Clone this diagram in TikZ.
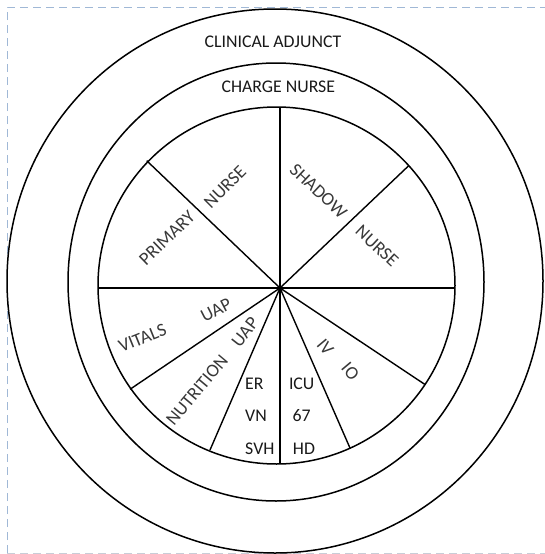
\documentclass[tikz,border=0pt]{standalone}
\usepackage{fontspec}
\setmainfont{Carlito}
\begin{document}
\begin{tikzpicture}[x=1pt,y=-1pt,
  ring/.style={line width=1.5pt,black},
  spoke/.style={line width=1.4pt,black},
  lbl/.style={inner sep=0pt,font=\fontsize{17.8}{20}\selectfont,text=black!90},
  rlbl/.style={inner sep=0pt,font=\fontsize{18.5}{20}\selectfont,text=black!78}]
\useasboundingbox (0,0) rectangle (544,554);
\draw[color={rgb,255:red,160;green,184;blue,214},line width=0.8pt,dash pattern=on 8pt off 5pt] (7,553) -- (7,7) -- (560,7);
\draw[color={rgb,255:red,200;green,205;blue,215},line width=0.8pt,dash pattern=on 8pt off 5pt] (7,553) -- (560,553);
% rings
\draw[ring] (275,281) ellipse [x radius=268, y radius=272];
\draw[ring] (276,282) ellipse [x radius=208, y radius=219];
\draw[ring] (276.5,285.5) circle [radius=178.5];
% spokes
\coordinate (c) at (280,288);
\coordinate (pU) at (280,107);
\coordinate (pD) at (280,464);
\coordinate (pL) at (98,288);
\coordinate (pR) at (455,288);
\coordinate (pUL) at (146.7,160.7);
\coordinate (pUR) at (408.7,165.7);
\coordinate (pLL1) at (130,389.3);
\coordinate (pLL2) at (210,450);
\coordinate (pLR1) at (350.3,448.7);
\coordinate (pLR2) at (424.7,384.3);
\foreach \p in {pU,pD,pL,pR,pUL,pUR,pLL1,pLL2,pLR1,pLR2}
  \draw[spoke] (c) -- (\p);
% ring labels
\node[lbl] (adj) at (273,41.5) {CLINICAL ADJUNCT};
\node[lbl] (chg) at (278.3,86.3) {CHARGE NURSE};
% rotated labels
\node[rlbl,rotate=44] (prim) at (167,238) {PRIMARY};
\node[rlbl,rotate=45] (pnur) at (225,187) {NURSE};
\node[rlbl,rotate=-43] (shad) at (318.5,191) {SHADOW};
\node[rlbl,rotate=-43] (snur) at (377,246) {NURSE};
\node[rlbl,rotate=22] (vit) at (142.5,338) {VITALS};
\node[rlbl,rotate=27] (uap1) at (216,310) {UAP};
\node[rlbl,rotate=50] (nut) at (197,390) {NUTRITION};
\node[rlbl,rotate=52] (uap2) at (245,332) {UAP};
\node[rlbl,rotate=-50] (iv) at (325.3,347) {IV};
\node[rlbl,rotate=-50] (io) at (350.3,371.2) {IO};
% horizontal labels
\node[lbl,anchor=west] (er) at (245,384) {ER};
\node[lbl,anchor=west] (vn) at (245,416) {VN};
\node[lbl,anchor=west] (svh) at (245,449) {SVH};
\node[lbl] (icu) at (301.7,384) {ICU};
\node[lbl] (n67) at (301.7,416) {67};
\node[lbl] (hd) at (304,449) {HD};
\end{tikzpicture}
\end{document}
